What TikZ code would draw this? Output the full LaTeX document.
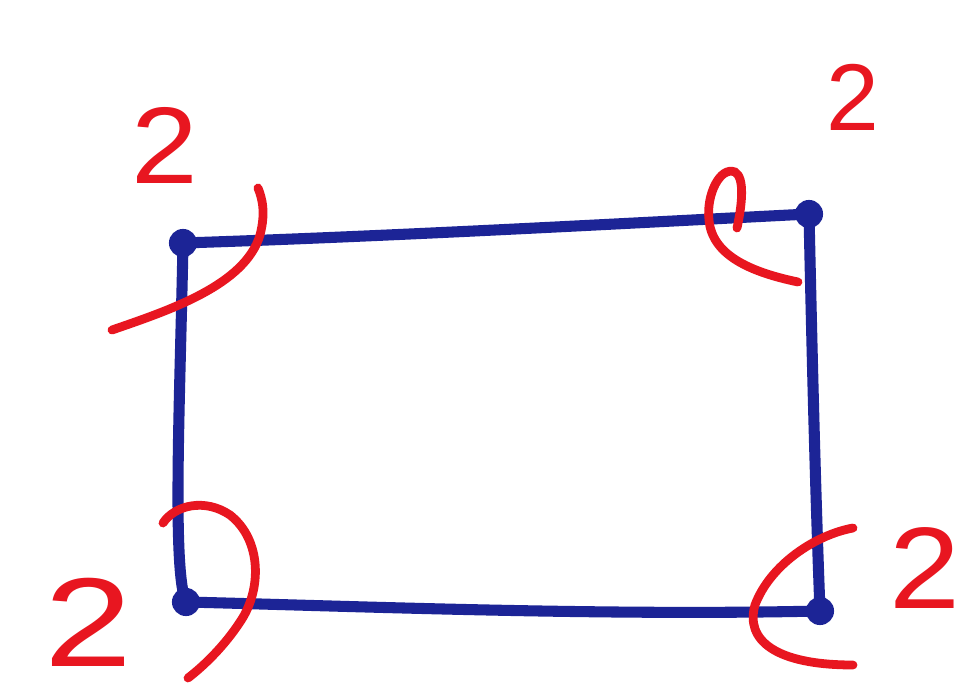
\documentclass[tikz,border=0pt]{standalone}
\usepackage{fontspec}
\setmainfont{Liberation Sans}
\definecolor{penblue}{RGB}{28,36,150}
\definecolor{penred}{RGB}{232,22,32}
\tikzset{
  edgeline/.style={draw=penblue, line width=6.3pt, line cap=round, line join=round},
  cornerdot/.style={circle, fill=penblue, minimum size=16pt, inner sep=0pt},
  anglearc/.style={draw=penred, line width=5pt, line cap=round},
  numlabel/.style={text=penred, inner sep=0pt}
}
\begin{document}
\begin{tikzpicture}[x=0.02cm, y=-0.02cm]
\useasboundingbox[fill=white] (0,0) rectangle (964,696);
% corners
\node[cornerdot] (TL) at (183,243) {};
\node[cornerdot] (TR) at (809,214) {};
\node[cornerdot] (BR) at (820,611) {};
\node[cornerdot] (BL) at (186,602) {};
% edges
\draw[edgeline] (TL.center) .. controls (400,236) and (650,222) .. (TR.center);
\draw[edgeline] (TR.center) .. controls (812,350) and (815,480) .. (BR.center);
\draw[edgeline] (BR.center) .. controls (600,616) and (350,606) .. (BL.center);
\draw[edgeline] (BL.center) .. controls (172,570) and (180,400) .. (TL.center);
% angle arcs
\draw[anglearc] (112,330) .. controls (170,310) and (245,285) .. (260,235) .. controls (266,212) and (262,198) .. (258,188);
\draw[anglearc] (737,228) .. controls (742,205) and (745,178) .. (735,172) .. controls (720,166) and (706,195) .. (709,220) .. controls (712,255) and (750,272) .. (798,282);
\draw[anglearc] (163,523) .. controls (175,505) and (205,498) .. (230,515) .. controls (262,540) and (262,590) .. (240,622) .. controls (225,645) and (205,665) .. (188,678);
\draw[anglearc] (853,528) .. controls (815,535) and (770,565) .. (755,605) .. controls (745,640) and (775,665) .. (853,665);
% labels
\node[numlabel, font=\fontsize{62}{62}\selectfont, xscale=1.1, transform shape] (n1) at (165,145) {2};
\node[numlabel, font=\fontsize{54}{54}\selectfont, xscale=1.0, transform shape] (n2) at (853,97) {2};
\node[numlabel, font=\fontsize{72}{72}\selectfont, xscale=1.25, transform shape] (n3) at (88,622) {2};
\node[numlabel, font=\fontsize{66}{66}\selectfont, xscale=1.1, transform shape] (n4) at (925,568) {2};
\end{tikzpicture}
\end{document}
